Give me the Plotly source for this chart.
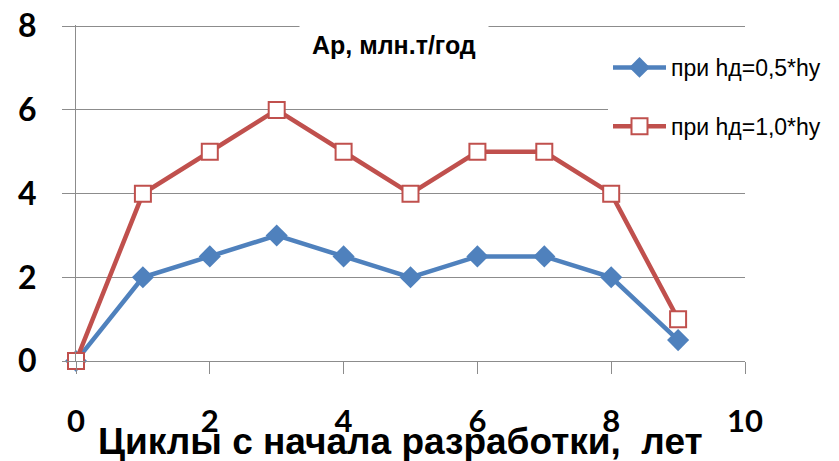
import plotly.graph_objects as go

cycles = [0, 1, 2, 3, 4, 5, 6, 7, 8, 9]
ap_05 = [0, 2, 2.5, 3, 2.5, 2, 2.5, 2.5, 2, 0.5]
ap_10 = [0, 4, 5, 6, 5, 4, 5, 5, 4, 1]
name_05 = "при hд=0,5*hy"
name_10 = "при hд=1,0*hy"
chart_title = "Ар, млн.т/год"
x_title = "Циклы с начала разработки,  лет"

BLUE = "#4F81BD"
RED = "#C0504D"
GRID = "#8C8C8C"

fig = go.Figure()
fig.add_trace(go.Scatter(
    x=cycles, y=ap_05, name=name_05, mode="lines+markers",
    line=dict(color=BLUE, width=4.5),
    marker=dict(symbol="diamond", size=17, color=BLUE),
    legendgroup="a", cliponaxis=False,
))
fig.add_trace(go.Scatter(
    x=cycles, y=ap_10, name=name_10, mode="lines+markers",
    line=dict(color=RED, width=4.5),
    marker=dict(symbol="square", size=16, color="white", line=dict(color=RED, width=2)),
    legendgroup="b", cliponaxis=False,
))

def px_x(p):
    return (p - 76) / 669

def px_y(p):
    return (361 - p) / 336

# page body adds an 8px offset; compensate so the plot area sits at 76..745 x 26..361
fig.update_layout(
    width=831, height=453,
    margin=dict(l=68, r=94, t=17, b=100, autoexpand=False),
    paper_bgcolor="white", plot_bgcolor="white",
    showlegend=True,
    legend=dict(
        x=px_x(608), y=px_y(46), xanchor="left", yanchor="top",
        bgcolor="white", borderwidth=0,
        font=dict(family="Liberation Sans, Arial, sans-serif", size=23, color="black"),
        itemwidth=53, tracegroupgap=26,
    ),
    xaxis=dict(
        range=[0, 10], tickvals=[0, 2, 4, 6, 8, 10],
        showgrid=False, zeroline=False,
        showline=True, linecolor=GRID, linewidth=1,
        ticks="outside", ticklen=12, tickcolor=GRID, tickwidth=1,
        ticklabelstandoff=21,
        tickfont=dict(family="Lato, Liberation Sans, sans-serif", size=31, color="black", weight="bold"),
    ),
    yaxis=dict(
        range=[0, 8.03], tickvals=[0, 2, 4, 6, 8],
        showgrid=True, gridcolor=GRID, gridwidth=1, zeroline=False,
        showline=True, linecolor=GRID, linewidth=1,
        ticks="outside", ticklen=13, tickcolor=GRID, tickwidth=1,
        ticklabelstandoff=19, ticklabeloverflow="allow",
        tickfont=dict(family="Lato, Liberation Sans, sans-serif", size=32, color="black", weight="bold"),
    ),
    annotations=[
        dict(text=chart_title, xref="paper", yref="paper",
             x=px_x(394), y=px_y(45), xanchor="center", yanchor="middle",
             showarrow=False, bgcolor="white", borderpad=12,
             font=dict(family="Liberation Sans, Arial, sans-serif", size=25, color="black", weight="bold")),
        dict(text=x_title, xref="paper", yref="paper",
             x=px_x(400), y=px_y(441), xanchor="center", yanchor="middle",
             showarrow=False,
             font=dict(family="Liberation Sans, Arial, sans-serif", size=37, color="black", weight="bold")),
    ],
)

fig.write_html("out.html")
